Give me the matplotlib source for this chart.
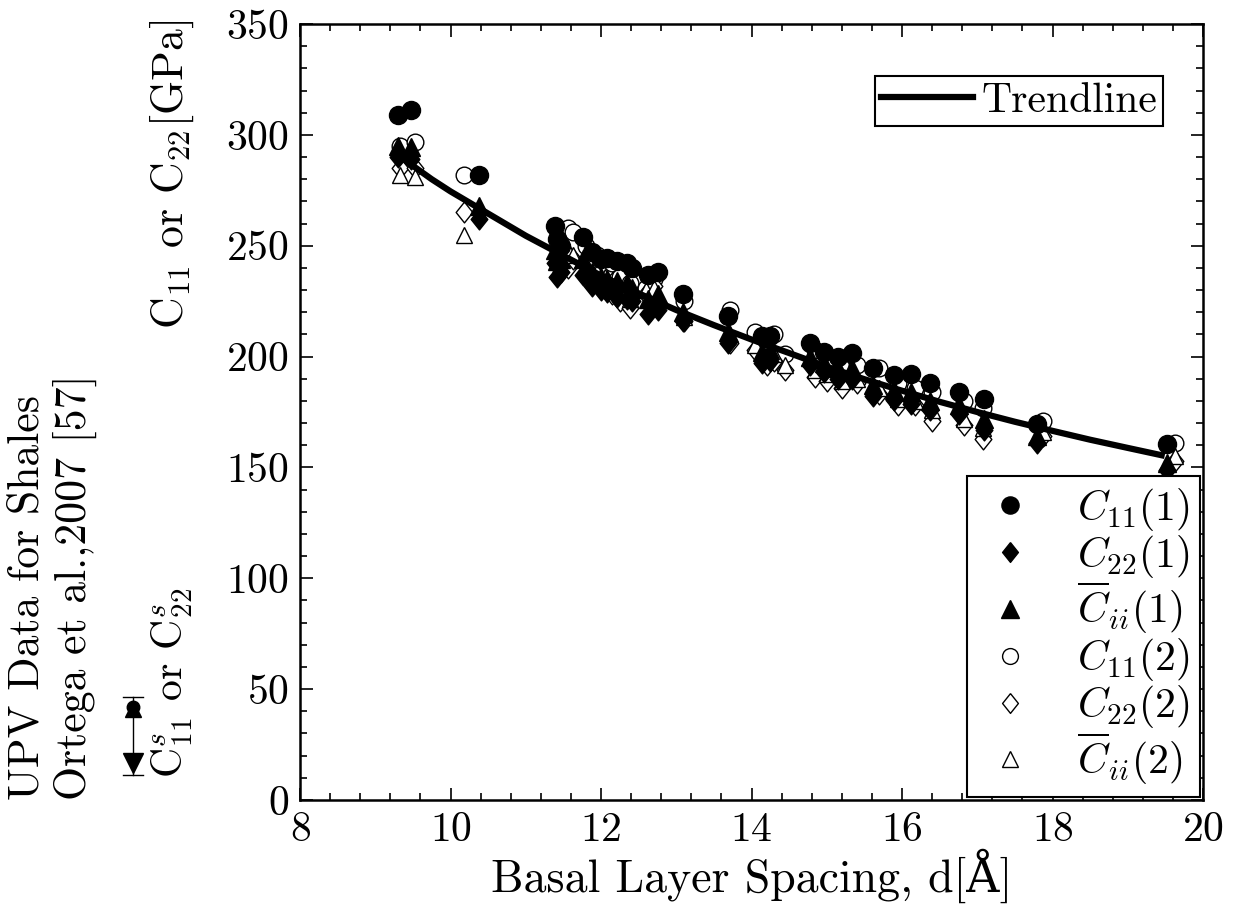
import matplotlib
matplotlib.use("Agg")
import matplotlib.pyplot as plt
from matplotlib.lines import Line2D
from matplotlib.ticker import MultipleLocator

plt.rcParams['font.family'] = ['cmr10', 'DejaVu Serif']
plt.rcParams['mathtext.fontset'] = 'cm'
plt.rcParams['axes.formatter.use_mathtext'] = True

# ---------------- data ----------------
x1 = [9.30, 9.48, 10.38, 11.39, 11.42, 11.47, 11.76, 11.88, 12.00, 12.08, 12.21,
      12.35, 12.41, 12.62, 12.76, 13.09, 13.69, 14.14, 14.25, 14.78, 14.97, 15.15,
      15.34, 15.61, 15.90, 16.12, 16.37, 16.76, 17.09, 17.80, 19.52]
c11_1 = [309, 311, 282, 259, 253, 250, 254, 247, 244, 244.5, 243,
         242, 240, 237, 238, 228, 218.5, 209.5, 209.5, 206, 202, 200,
         201.5, 195, 191.5, 192, 188, 184, 181, 169.5, 160.5]
c22_1 = [290, 289, 262, 242, 236, 238, 237, 232, 230, 229, 227,
         226, 225, 219, 221, 216, 206, 197, 198, 196, 193, 190,
         190, 182, 180.5, 178.5, 176, 174, 167, 161, 149]
cii_1 = [295, 294.5, 268, 248, 243, 244, 244, 238, 236, 235, 234,
         233, 231, 226, 228, 220, 211, 202, 203, 200, 197, 195,
         195, 187, 185, 184, 180, 178, 172, 164, 152]

x2 = [9.33, 9.53, 10.18, 11.45, 11.56, 11.63, 11.80, 11.95, 12.05, 12.15, 12.25,
      12.38, 12.60, 12.70, 13.10, 13.72, 14.05, 14.20, 14.30, 14.45, 14.85, 15.00,
      15.20, 15.40, 15.70, 15.95, 16.17, 16.40, 16.82, 17.07, 17.88, 19.63]
c11_2 = [295, 297, 282, 250, 258, 256, 250, 246, 240, 242, 236,
         233, 231, 235, 225, 221, 211, 208, 210, 201, 203, 199,
         195, 196, 195, 188, 186, 184, 180, 177, 171, 161]
c22_2 = [285, 285, 265, 243, 240, 244, 238, 236, 232, 228, 225,
         222, 228, 232, 216, 206, 203, 196, 198, 194, 191, 189,
         186, 188, 183, 178, 178, 171, 169, 163, 164, 153]
cii_2 = [282, 281, 255, 245, 248, 246, 240, 238, 236, 232, 230,
         226, 230, 231, 218, 210, 205, 200, 201, 196, 194, 192,
         189, 190, 186, 181, 180, 176, 172, 168, 166, 155]

trend_x = [9.42, 9.75, 10.0, 10.5, 11.0, 11.5, 12.0, 12.5, 13.0, 13.5, 14.0,
           14.5, 15.0, 15.5, 16.0, 16.5, 17.0, 17.5, 18.0, 18.5, 19.0, 19.45]
trend_y = [288, 280, 274.5, 264.5, 254.5, 245.5, 236.5, 228.5, 221, 214.2, 207.7,
           201.6, 195.4, 189.8, 184.6, 179.6, 175, 170.6, 166.5, 162.5, 158.8, 155.5]

x_ticks = [8, 10, 12, 14, 16, 18, 20]
y_ticks = [0, 50, 100, 150, 200, 250, 300, 350]

# ---------------- figure ----------------
W, H = 1241, 916
fig = plt.figure(figsize=(W / 100, H / 100), dpi=100)
ax = fig.add_axes([300 / W, 1 - 800 / H, 903 / W, 776 / H])

ms = 13
diamond = [(0, 1), (0.8, 0), (0, -1), (-0.8, 0), (0, 1)]

h_o2, = ax.plot(x2, c11_2, 'o', ms=ms - 1, mfc='white', mec='black', mew=1.0, ls='none')
h_d2, = ax.plot(x2, c22_2, marker=diamond, ms=ms + 2, mfc='white', mec='black', mew=1.0, ls='none')
h_t2, = ax.plot(x2, cii_2, '^', ms=ms - 1, mfc='white', mec='black', mew=1.0, ls='none')

h_line, = ax.plot(trend_x, trend_y, '-', color='black', lw=4.5, zorder=3)

h_d1, = ax.plot(x1, c22_1, marker=diamond, ms=ms + 2, mfc='black', mec='black', ls='none', zorder=4)
h_t1, = ax.plot(x1, cii_1, '^', ms=ms, mfc='black', mec='black', ls='none', zorder=4)
h_o1, = ax.plot(x1, c11_1, 'o', ms=ms, mfc='black', mec='black', ls='none', zorder=4)

ax.set_xlim(8, 20)
ax.set_ylim(0, 350)
ax.set_xticks(x_ticks)
ax.set_yticks(y_ticks)
ax.xaxis.set_minor_locator(MultipleLocator(0.4))
ax.yaxis.set_minor_locator(MultipleLocator(10))
ax.tick_params(which='both', direction='in', top=True, right=True, labelsize=30, width=1.2)
ax.tick_params(which='major', length=9, pad=8)
ax.tick_params(which='minor', length=5)
for s in ax.spines.values():
    s.set_linewidth(1.8)

ax.set_xlabel('Basal Layer Spacing, d[Å]', fontsize=33, labelpad=0)

leg1 = ax.legend([h_line], ['Trendline'], loc='upper right', bbox_to_anchor=(0.956, 0.933),
                 fontsize=30, frameon=True, fancybox=False, framealpha=1, edgecolor='black',
                 handlelength=2.2, handletextpad=0.2, borderpad=0.15, borderaxespad=0)
leg1.get_frame().set_linewidth(1.5)
ax.add_artist(leg1)

leg2 = ax.legend([h_o1, h_d1, h_t1, h_o2, h_d2, h_t2],
                 [r'$C_{11}(1)$', r'$C_{22}(1)$', r'$\overline{C}_{ii}(1)$',
                  r'$C_{11}(2)$', r'$C_{22}(2)$', r'$\overline{C}_{ii}(2)$'],
                 loc='lower right', bbox_to_anchor=(1.0, 0.0), fontsize=30,
                 frameon=True, fancybox=False, framealpha=1, edgecolor='black',
                 handlelength=1.6, handletextpad=0.8, labelspacing=0.0, borderpad=0.25,
                 borderaxespad=0.07, markerscale=0.95)
leg2.get_frame().set_linewidth(1.5)

# left-hand labels
fig.text(27 / W, 1 - 800 / H, 'UPV Data for Shales', rotation=90, ha='center', va='bottom', fontsize=31.5)
fig.text(75 / W, 1 - 800 / H, 'Ortega et al.,2007 [57]', rotation=90, ha='center', va='bottom', fontsize=31.5)
fig.text(172 / W, 1 - 20 / H, r'C$_{11}$ or C$_{22}$[GPa]', rotation=90, ha='center', va='top', fontsize=31.5)
fig.text(172 / W, 1 - 778 / H, r'C$^s_{11}$ or C$^s_{22}$', rotation=90, ha='center', va='bottom', fontsize=30)

# small error-bar glyph next to the lower label
tf = fig.transFigure
gx = 133 / W
def fy(p):
    return 1 - p / H
fig.add_artist(Line2D([gx, gx], [fy(697), fy(775)], color='black', lw=1.0, transform=tf))
fig.add_artist(Line2D([gx - 10 / W, gx + 10 / W], [fy(697), fy(697)], color='black', lw=1.0, transform=tf))
fig.add_artist(Line2D([gx - 10 / W, gx + 10 / W], [fy(775), fy(775)], color='black', lw=1.0, transform=tf))
fig.add_artist(Line2D([gx], [fy(707)], marker='o', ms=9, color='black', transform=tf))
fig.add_artist(Line2D([gx], [fy(709)], marker='^', ms=12, color='black', transform=tf))
fig.add_artist(Line2D([gx], [fy(763)], marker='v', ms=14, color='black', transform=tf))

fig.savefig('out.png', dpi=100)
